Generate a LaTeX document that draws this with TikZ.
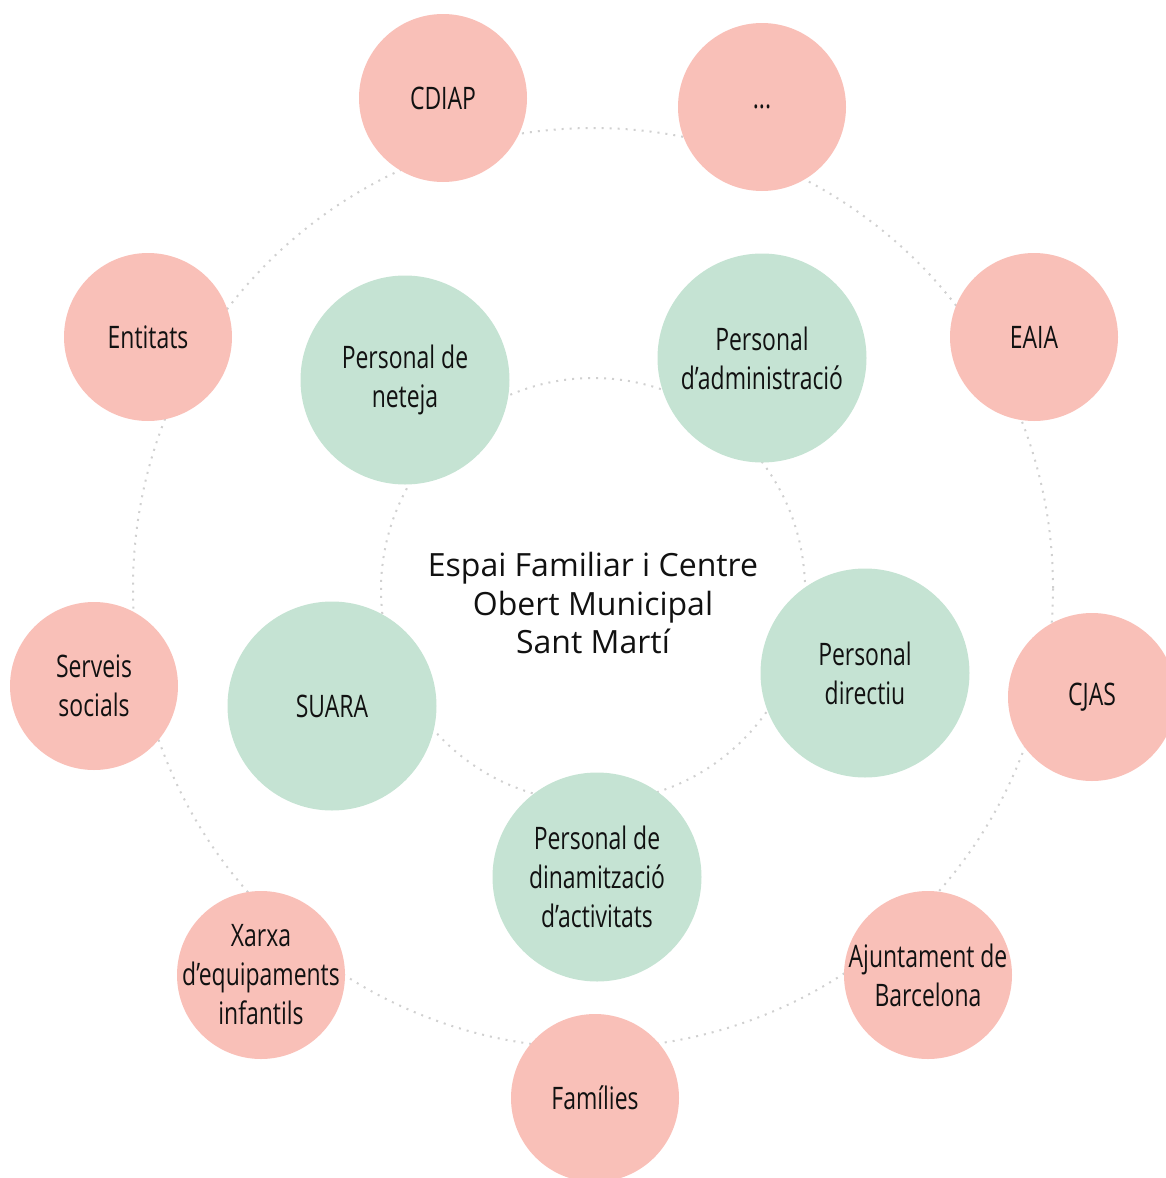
\documentclass[tikz,border=0pt]{standalone}
\usepackage{fontspec}
\setmainfont{Open Sans}
\newfontfamily\labfont{Open Sans}[FakeStretch=0.74]
\definecolor{pinkc}{HTML}{F9C0B8}
\definecolor{greenc}{HTML}{C5E3D3}
\definecolor{ringc}{HTML}{D0D0D0}
\definecolor{txt}{HTML}{111111}
\tikzset{
  ring/.style={draw=ringc, line width=2pt, dash pattern=on 2pt off 6pt},
  outerbub/.style={circle, fill=pinkc, minimum size=168pt, inner sep=-40pt, align=center,
     text=txt, font=\labfont\fontsize{31}{39}\selectfont},
  innerbub/.style={circle, fill=greenc, minimum size=209pt, inner sep=-40pt, align=center,
     text=txt, font=\labfont\fontsize{31}{39}\selectfont},
  title/.style={align=center, text=txt, font=\fontsize{32}{38.5}\selectfont}
}
\begin{document}
\begin{tikzpicture}[x=1pt,y=-1pt]
\useasboundingbox (0,0) rectangle (1166,1178);
\coordinate (oc) at (593,588);
\coordinate (ic) at (593,590);
\draw[ring] (oc) circle[radius=460pt];
\draw[ring] (ic) circle[radius=212pt];
% outer
\node[outerbub] (cdiap) at (443,98) {CDIAP};
\node[outerbub] (dots) at (762,107) {...};
\node[outerbub] (eaia) at (1034,337) {EAIA};
\node[outerbub] (cjas) at (1092,697) {CJAS};
\node[outerbub] (ajunt) at (928,975) {Ajuntament de\\Barcelona};
\node[outerbub] (fam) at (595,1098) {Famílies};
\node[outerbub] (xarxa) at (261,975) {Xarxa\\d’equipaments\\infantils};
\node[outerbub] (serveis) at (94,686) {Serveis\\socials};
\node[outerbub] (entitats) at (148,337) {Entitats};
% inner
\node[innerbub] (neteja) at (405,380) {Personal de\\neteja};
\node[innerbub] (admin) at (762,358) {Personal\\d’administració};
\node[innerbub] (directiu) at (865,673) {Personal\\directiu};
\node[innerbub] (dinam) at (597,877) {Personal de\\dinamització\\d’activitats};
\node[innerbub] (suara) at (332,706) {SUARA};
% centre
\node[title] (centre) at (593,603) {Espai Familiar i Centre\\Obert Municipal\\Sant Martí};
\end{tikzpicture}
\end{document}
